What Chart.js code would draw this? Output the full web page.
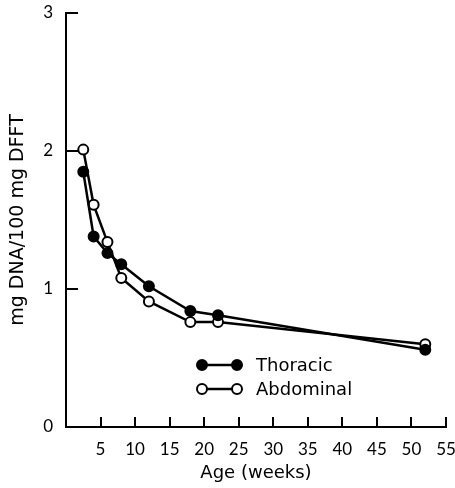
<!DOCTYPE html>
<html>
<head>
<meta charset="utf-8">
<script src="https://cdn.jsdelivr.net/npm/chart.js@4"></script>
<style>
html,body{margin:0;padding:0;background:#fff;}
#wrap{width:455px;height:488px;position:relative;}
</style>
</head>
<body>
<div id="wrap"><canvas id="c" width="455" height="488"></canvas></div>
<script>
const weeks = [2.5, 4, 6, 8, 12, 18, 22, 52];
const thoracic = [1.85, 1.38, 1.26, 1.18, 1.02, 0.84, 0.81, 0.56];
const abdominal = [2.01, 1.61, 1.34, 1.08, 0.91, 0.76, 0.76, 0.60];
const xTicks = [5, 10, 15, 20, 25, 30, 35, 40, 45, 50, 55];
const yTicks = [0, 1, 2, 3];
const seriesNames = ['Thoracic', 'Abdominal'];
const xTitle = 'Age (weeks)';
const yTitle = 'mg DNA/100 mg DFFT';

const TEXT_FONT = '"DejaVu Sans"';
const TICK_FONT = 'Lato';

const inwardTicks = {
  id: 'inwardTicks',
  afterDraw(chart) {
    const ctx = chart.ctx;
    const xs = chart.scales.x, ys = chart.scales.y;
    const a = chart.chartArea;
    ctx.save();
    ctx.strokeStyle = '#000';
    ctx.lineWidth = 2;
    xs.ticks.forEach(t => {
      const px = Math.round(xs.getPixelForValue(t.value));
      ctx.beginPath(); ctx.moveTo(px, a.bottom); ctx.lineTo(px, a.bottom - 10); ctx.stroke();
    });
    ys.ticks.forEach(t => {
      const py = Math.round(ys.getPixelForValue(t.value));
      ctx.beginPath(); ctx.moveTo(a.left, py); ctx.lineTo(a.left + 12, py); ctx.stroke();
    });
    ctx.restore();
  }
};

const lineLegend = {
  id: 'lineLegend',
  afterDraw(chart) {
    const ctx = chart.ctx;
    ctx.save();
    chart.data.datasets.forEach((ds, i) => {
      const y = 365 + i * 24;
      const x1 = 202, x2 = 237;
      ctx.strokeStyle = '#000';
      ctx.lineWidth = 2.5;
      ctx.beginPath(); ctx.moveTo(x1, y); ctx.lineTo(x2, y); ctx.stroke();
      [x1, x2].forEach(x => {
        ctx.beginPath(); ctx.arc(x, y, 5, 0, Math.PI * 2);
        ctx.fillStyle = ds.pointBackgroundColor; ctx.fill();
        ctx.lineWidth = 2; ctx.stroke();
      });
      ctx.fillStyle = '#000';
      ctx.font = '18px ' + TEXT_FONT;
      ctx.textBaseline = 'middle';
      ctx.textAlign = 'left';
      ctx.fillText(ds.label, 256, y + 1);
    });
    ctx.restore();
  }
};

new Chart(document.getElementById('c'), {
  type: 'line',
  data: {
    datasets: [
      {
        label: seriesNames[0],
        data: weeks.map((w, i) => ({x: w, y: thoracic[i]})),
        borderColor: '#000', borderWidth: 2.5,
        pointBackgroundColor: '#000', pointBorderColor: '#000',
        pointRadius: 5, pointBorderWidth: 2, tension: 0
      },
      {
        label: seriesNames[1],
        data: weeks.map((w, i) => ({x: w, y: abdominal[i]})),
        borderColor: '#000', borderWidth: 2.5,
        pointBackgroundColor: '#fff', pointBorderColor: '#000',
        pointRadius: 5, pointBorderWidth: 2, tension: 0
      }
    ]
  },
  options: {
    responsive: false,
    animation: false,
    layout: { padding: { top: 13, right: 9, left: 0, bottom: 0 } },
    plugins: { legend: { display: false }, tooltip: { enabled: false } },
    scales: {
      x: {
        type: 'linear', min: 0, max: 55,
        afterBuildTicks: s => { s.ticks = xTicks.map(v => ({value: v})); },
        afterFit: s => { s.height = 61; s.paddingLeft = 0; s.paddingRight = 0; },
        grid: { display: true, drawOnChartArea: false, drawTicks: false },
        border: { display: true, color: '#000', width: 2 },
        ticks: { color: '#000', font: { family: TICK_FONT, size: 17 }, padding: 12, maxRotation: 0, autoSkip: false },
        title: { display: true, text: xTitle, color: '#000', font: { family: TEXT_FONT, size: 18 }, padding: { top: 0, bottom: 4 } }
      },
      y: {
        type: 'linear', min: 0, max: 3,
        afterBuildTicks: s => { s.ticks = yTicks.map(v => ({value: v})); },
        afterFit: s => { s.width = 66; s.paddingTop = 0; s.paddingBottom = 0; },
        grid: { display: true, drawOnChartArea: false, drawTicks: false },
        border: { display: true, color: '#000', width: 2 },
        ticks: { color: '#000', font: { family: TICK_FONT, size: 17 }, padding: 13 },
        title: { display: true, text: yTitle, color: '#000', font: { family: TEXT_FONT, size: 19 }, padding: { top: 7, bottom: 0 } }
      }
    }
  },
  plugins: [inwardTicks, lineLegend]
});
</script>
</body>
</html>
